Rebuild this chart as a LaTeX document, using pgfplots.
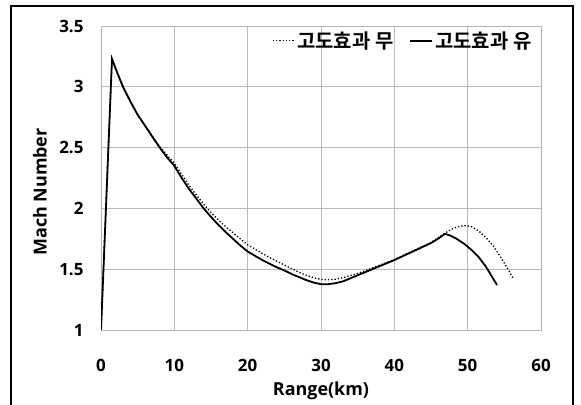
\documentclass[border=0pt]{standalone}
\usepackage{fontspec}
\setmainfont{Open Sans}
\newfontfamily\kr{Noto Sans CJK KR}[BoldFont={Noto Sans CJK KR Bold}]
\usepackage{pgfplots}
\pgfplotsset{compat=1.18}

% 고도효과 무 (dotted)
\pgfplotstableread{
x y
0 1
1.5 3.23
2.25 3.11
3 3.0
4 2.88
5 2.77
6 2.68
7 2.595
8 2.51
9 2.44
10 2.37
11 2.28
12 2.19
13 2.11
14 2.035
15 1.965
16 1.905
17 1.85
18 1.80
19 1.75
20 1.70
21 1.665
22 1.63
23 1.595
24 1.565
25 1.535
26 1.505
27 1.475
28 1.45
29 1.43
30 1.415
31 1.413
32 1.418
33 1.43
34 1.447
35 1.465
36 1.487
37 1.51
38 1.533
39 1.556
40 1.58
41 1.608
42 1.636
43 1.664
44 1.692
45 1.72
46 1.76
47 1.80
48 1.835
49 1.855
49.8 1.858
50.5 1.85
51.5 1.815
52.5 1.76
53.5 1.69
54.5 1.60
55.5 1.50
56.25 1.42
}\without

% 고도효과 유 (solid)
\pgfplotstableread{
x y
0 1
1.5 3.23
2.25 3.11
3 3.0
4 2.88
5 2.77
6 2.68
7 2.59
8 2.50
9 2.42
10 2.35
11 2.25
12 2.16
13 2.08
14 2.00
15 1.93
16 1.865
17 1.805
18 1.75
19 1.695
20 1.645
21 1.61
22 1.575
23 1.545
24 1.515
25 1.49
26 1.46
27 1.435
28 1.41
29 1.39
30 1.377
31 1.377
32 1.385
33 1.40
34 1.425
35 1.45
36 1.475
37 1.50
38 1.525
39 1.55
40 1.575
41 1.603
42 1.631
43 1.659
44 1.687
45 1.715
46 1.752
46.9 1.79
47.5 1.78
48.5 1.75
49.5 1.71
50.5 1.66
51.5 1.60
52.5 1.52
53.3 1.44
54 1.37
}\with

\begin{document}
\begin{tikzpicture}
\useasboundingbox (0,0) rectangle (581bp,405bp);
\draw[line width=2bp] (10.7bp,-5bp) -- (10.7bp,399.3bp) -- (573bp,399.3bp) -- (573bp,-5bp);
\begin{axis}[
  at={(101bp,75bp)}, anchor=south west,
  width=440bp, height=304bp, scale only axis,
  xmin=0, xmax=60, ymin=1, ymax=3.5,
  xtick={0,10,...,60}, ytick={1,1.5,...,3.5},
  grid=major, grid style={draw=black!27, line width=0.8bp},
  axis line style={draw=black!30, line width=0.8bp},
  major tick length=0pt,
  tick label style={font=\fontsize{17}{19}\selectfont\bfseries},
  /pgf/number format/assume math mode=true,
  xticklabel style={yshift=-26bp},
  yticklabel style={xshift=-14bp},
  xlabel={Range(km)}, ylabel={Mach Number},
  label style={font=\fontsize{18}{20}\selectfont\bfseries},
  xlabel style={at={(axis description cs:0.5,-0.2)}, anchor=center},
  ylabel style={at={(axis description cs:-0.139,0.454)}, anchor=center},
  legend style={at={(rel axis cs:0.99,0.995)}, anchor=north east, draw=none, fill=none,
    font=\fontsize{20}{22}\selectfont\kr\bfseries, legend columns=2,
    /tikz/every even column/.append style={column sep=14bp}},
  legend image code/.code={\draw[#1] (0bp,0bp) -- (22bp,0bp);},
]
\addplot[black, line width=1.3bp, dotted] table {\without};
\addlegendentry{고도효과 무}
\addplot[black, line width=1.8bp] table {\with};
\addlegendentry{고도효과 유}
\end{axis}
\end{tikzpicture}
\end{document}
